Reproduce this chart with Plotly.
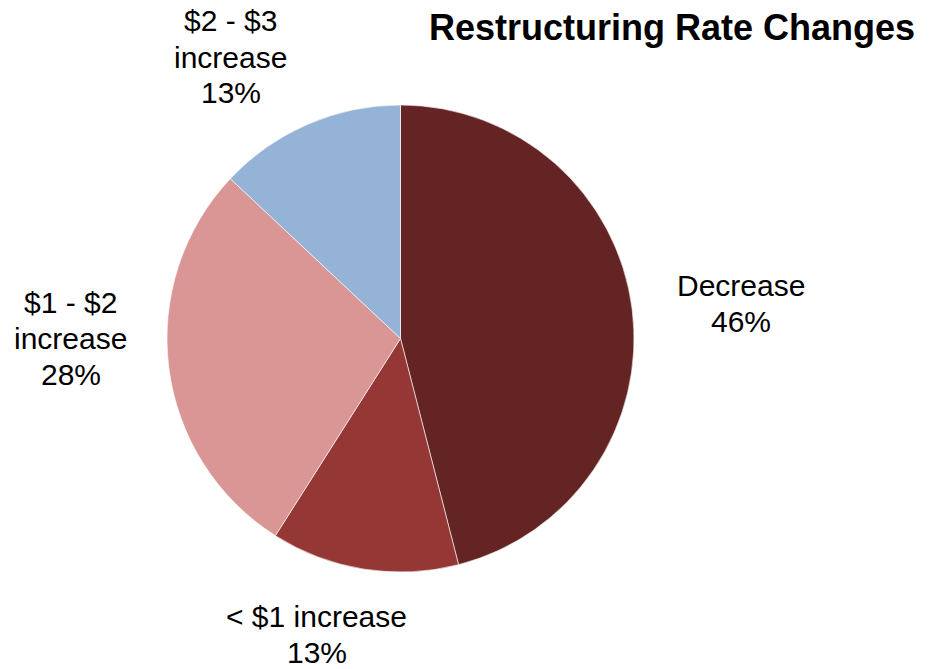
import plotly.graph_objects as go

labels = ["Decrease", "< $1 increase", "$1 - $2 increase", "$2 - $3 increase"]
values = [46, 13, 28, 13]
colors = ["#632423", "#953735", "#D99694", "#95B3D7"]
label_lines = [["Decrease", "46%"], ["< $1 increase", "13%"],
               ["$1 - $2", "increase", "28%"], ["$2 - $3", "increase", "13%"]]
title_text = "<b>Restructuring Rate Changes</b>"

W, H = 933, 669
label_pos = [(741, 303), (316.5, 634), (70.5, 338), (230.5, 57)]
line_gap = 36

fig = go.Figure(go.Pie(
    labels=labels,
    values=values,
    sort=False,
    direction="clockwise",
    rotation=0,
    textinfo="none",
    hoverinfo="label+percent",
    marker=dict(colors=colors, line=dict(color="white", width=0.6)),
    domain=dict(x=[167 / W, 634 / W], y=[1 - 572 / H, 1 - 105 / H]),
    showlegend=False,
))

for lines, (px, py) in zip(label_lines, label_pos):
    n = len(lines)
    for i, ln in enumerate(lines):
        ly = py + (i - (n - 1) / 2) * line_gap
        fig.add_annotation(
            text=ln, x=px / W, y=1 - ly / H, xref="paper", yref="paper",
            xanchor="center", yanchor="middle", showarrow=False,
            font=dict(family="Liberation Sans, Arial", size=30, color="black"),
        )

fig.add_annotation(
    text=title_text, x=671.5 / W, y=1 - 28 / H, xref="paper", yref="paper",
    xanchor="center", yanchor="middle", showarrow=False,
    font=dict(family="Liberation Sans, Arial", size=36, color="black"),
)

fig.update_layout(
    width=W, height=H,
    margin=dict(l=0, r=0, t=0, b=0),
    paper_bgcolor="white", plot_bgcolor="white",
    font=dict(family="Liberation Sans, Arial"),
)

fig.write_html("out.html")
